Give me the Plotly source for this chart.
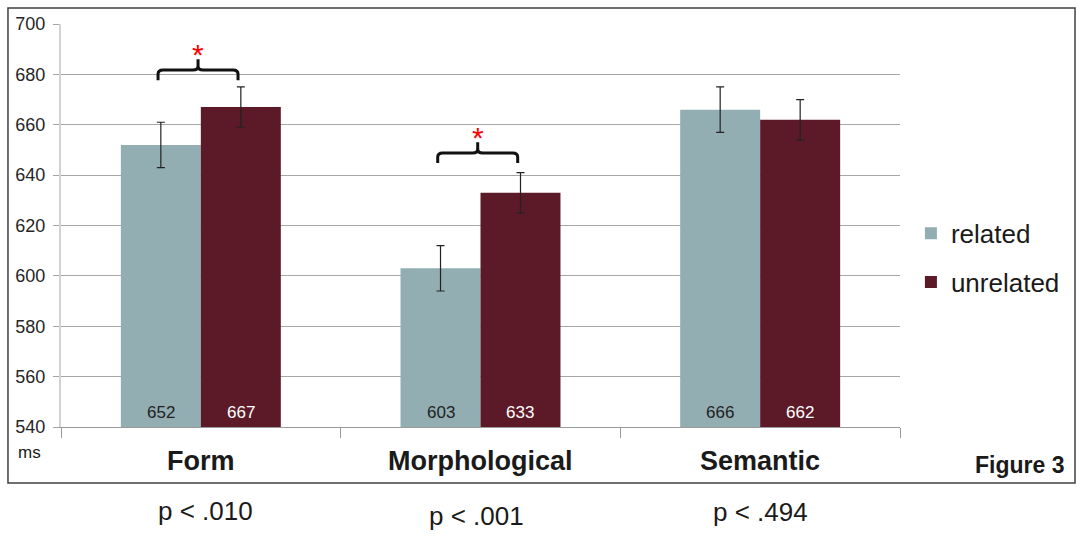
import plotly.graph_objects as go

# ---- data ----
categories = ["Form", "Morphological", "Semantic"]
related = [652, 603, 666]
unrelated = [667, 633, 662]
related_err = [9, 9, 9]
unrelated_err = [8, 8, 8]
p_labels = ["p < .010", "p < .001", "p < .494"]
y_ticks = [540, 560, 580, 600, 620, 640, 660, 680, 700]

C_REL = "#92aeb3"
C_UNR = "#5c1a28"
TXT = "#1a1a1a"
FONT = "Liberation Sans, Arial, sans-serif"

xpos = list(range(len(categories)))
BARGAP = 0.428
HALF = (1 - BARGAP) / 4  # centre offset of each bar within a group

fig = go.Figure()
fig.add_trace(go.Bar(
    x=xpos, y=related, name="related", marker=dict(color=C_REL, line=dict(width=0)),
    error_y=dict(type="data", array=related_err, color="#222222", thickness=1.2, width=4),
    legendgroup="a",
))
fig.add_trace(go.Bar(
    x=xpos, y=unrelated, name="unrelated", marker=dict(color=C_UNR, line=dict(width=0)),
    error_y=dict(type="data", array=unrelated_err, color="#222222", thickness=1.2, width=4),
    legendgroup="b",
))

shapes = []
annotations = []

# value labels at the base of each bar
for i in xpos:
    annotations.append(dict(x=i - HALF, y=540, xref="x", yref="y", text=str(related[i]),
                            showarrow=False, yanchor="middle", yshift=15,
                            font=dict(size=17, color="#222222", family=FONT)))
    annotations.append(dict(x=i + HALF, y=540, xref="x", yref="y", text=str(unrelated[i]),
                            showarrow=False, yanchor="middle", yshift=15,
                            font=dict(size=17, color="#ffffff", family=FONT)))

# significance brackets (Form and Morphological)
def bracket(i, ytop):
    xc = i - 0.01
    xl = xc - HALF
    xr = xc + HALF
    yend = ytop - 4.0
    ypk = ytop + 4.3
    rx, ry = 0.018, 1.6
    return (f"M {xl},{yend} L {xl},{ytop-ry} Q {xl},{ytop} {xl+rx},{ytop} "
            f"L {xc-rx},{ytop} Q {xc},{ytop} {xc},{ytop+ry} L {xc},{ypk} "
            f"M {xc},{ytop+ry} Q {xc},{ytop} {xc+rx},{ytop} "
            f"L {xr-rx},{ytop} Q {xr},{ytop} {xr},{ytop-ry} L {xr},{yend}")

for i, ytop in [(0, 681.7), (1, 648.8)]:
    shapes.append(dict(type="path", path=bracket(i, ytop), xref="x", yref="y",
                       line=dict(color="#111111", width=3)))
    annotations.append(dict(x=i - 0.01, y=ytop + 6.2, xref="x", yref="y", text="*",
                            showarrow=False, yanchor="middle",
                            font=dict(size=30, color="#ff0000", family=FONT)))

# outer frame
shapes.append(dict(type="rect", xref="paper", yref="paper",
                   x0=-0.0632, x1=1.2086, y0=-0.139, y1=1.0397,
                   line=dict(color="#404040", width=1.5), layer="below"))

# category labels
for i, c in enumerate(categories):
    annotations.append(dict(x=i, y=-0.085, xref="x", yref="paper", text=f"<b>{c}</b>",
                            showarrow=False, yanchor="middle",
                            font=dict(size=27, color=TXT, family=FONT)))
# p-values
p_y = [-0.208, -0.222, -0.21]
p_x = [0.015, 0.985, 2.0]
for i, p in enumerate(p_labels):
    annotations.append(dict(x=p_x[i], y=p_y[i], xref="x", yref="paper", text=p,
                            showarrow=False, yanchor="middle",
                            font=dict(size=26, color=TXT, family=FONT)))
# ms
annotations.append(dict(x=-0.0370, y=-0.064, xref="paper", yref="paper", text="ms",
                        showarrow=False, xanchor="center", yanchor="middle",
                        font=dict(size=17, color=TXT, family=FONT)))
# Figure 3
annotations.append(dict(x=1.198, y=-0.094, xref="paper", yref="paper", text="<b>Figure 3</b>",
                        showarrow=False, xanchor="right", yanchor="middle",
                        font=dict(size=23, color=TXT, family=FONT)))

fig.update_layout(
    width=1077, height=542,
    margin=dict(l=61, r=177, t=24, b=115),
    paper_bgcolor="white", plot_bgcolor="white",
    barmode="group", bargap=BARGAP, bargroupgap=0,
    showlegend=True,
    legend=dict(x=1.013, y=0.42, xanchor="left", yanchor="middle",
                font=dict(size=26, color=TXT, family=FONT),
                traceorder="grouped", tracegroupgap=12, bgcolor="rgba(0,0,0,0)"),
    shapes=shapes, annotations=annotations,
    font=dict(family=FONT, color=TXT),
)
fig.update_xaxes(range=[-0.5, 2.5], showgrid=False, zeroline=False,
                 tickmode="array", tickvals=[-0.5, 0.5, 1.5, 2.5], ticktext=["", "", "", ""],
                 ticks="outside", ticklen=10, tickcolor="#9a9a9a",
                 showline=True, linecolor="#9a9a9a", linewidth=1)
fig.update_yaxes(range=[540, 700], tickmode="array", tickvals=y_ticks,
                 showgrid=True, gridcolor="#a6a6a6", gridwidth=1, zeroline=False,
                 ticks="outside", ticklen=6, tickcolor="#a6a6a6", ticklabelstandoff=4,
                 showline=True, linecolor="#d2d2d2", linewidth=2,
                 tickfont=dict(size=18, color="#262626", family=FONT))

fig.write_html("out.html", config={"displayModeBar": False},
               post_script="document.body.style.margin='0px';")
